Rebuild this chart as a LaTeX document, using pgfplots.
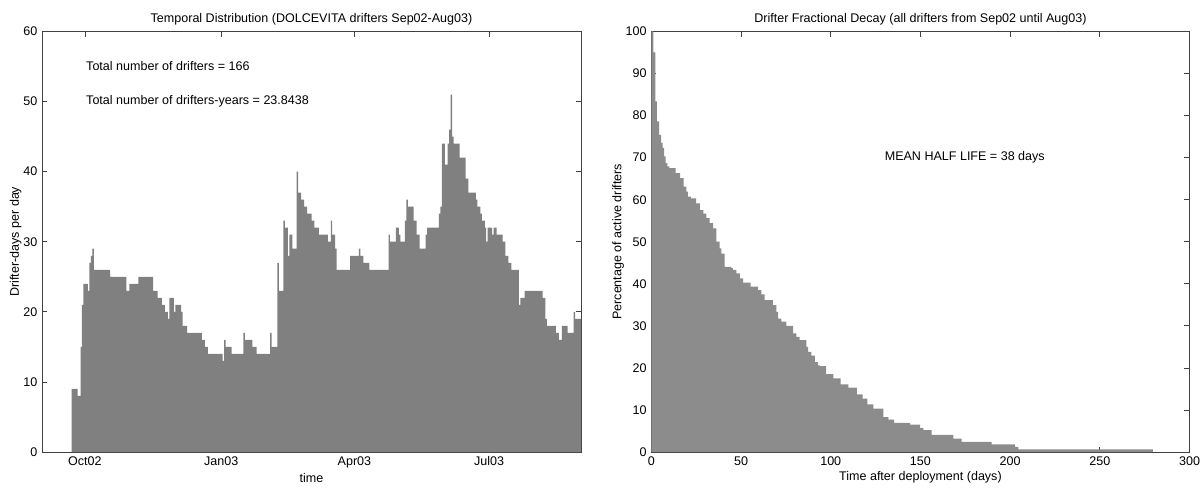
\documentclass[border=0pt]{standalone}
\usepackage{fontspec}
\setmainfont{Liberation Sans}
\usepackage{pgfplots}
\pgfplotsset{compat=1.18}

\definecolor{fillL}{RGB}{128,128,128}
\definecolor{fillR}{RGB}{140,140,140}

\pgfplotsset{
  mat/.style={
    scale only axis, anchor=south west,
    height=315.4pt,
    axis line style={black!75, line width=0.6pt},
    every tick/.style={black!75, line width=0.6pt},
    major tick length=3.8pt, tick align=inside,
    enlargelimits=false,
    /pgf/number format/assume math mode=true,
    font=\fontsize{9.4}{11}\selectfont,
    ticklabel style={font=\fontsize{9.4}{11}\selectfont},
    title style={font=\fontsize{9.4}{11}\selectfont, yshift=-5pt},
    label style={font=\fontsize{9.4}{11}\selectfont},
    xlabel style={yshift=2.5pt},
    ylabel style={yshift=-5.5pt},
  }
}

\begin{document}
\begin{tikzpicture}
\useasboundingbox (0,0) rectangle (900.75pt,365.25pt);

% left: drifter-days per day
\begin{axis}[mat, at={(31.5pt,26.25pt)}, width=404.25pt,
    xmin=-29, xmax=335, ymin=0, ymax=60,
    xtick={0,92,182,273}, xticklabels={Oct02,Jan03,Apr03,Jul03},
    ytick={0,10,...,60},
    title={Temporal Distribution (DOLCEVITA drifters Sep02-Aug03)},
    xlabel={time}, ylabel={Drifter-days per day}]
\addplot[const plot, fill=fillL, draw=none] coordinates {
(-9,9) (-5,8) (-3,15) (-2,21) (-1,24) (2,23) (3,27) (4,28) (5,29) (6,26)
(17,25) (28,23) (30,24) (36,25) (46,23) (49,22) (52,21) (54,20) (56,19) (57,22)
(60,20) (61,21) (65,20) (66,18) (69,17) (79,16) (81,15) (83,14) (93,13) (94,16)
(95,15) (99,14) (107,17) (108,16) (113,15) (116,14) (125,17) (126,15) (130,27) (131,23)
(134,33) (135,32) (137,28) (138,31) (140,29) (143,40) (144,37) (146,36) (148,35) (150,34)
(153,33) (155,32) (158,31) (164,30) (166,33) (167,31) (169,29) (170,26) (179,28) (185,29)
(186,28) (188,27) (192,26) (205,31) (206,30) (210,32) (212,31) (213,30) (216,33) (217,36)
(218,35) (222,33) (224,31) (226,29) (230,31) (231,32) (239,34) (240,35) (241,44) (243,41)
(245,44) (246,46) (247,51) (248,45) (249,44) (253,42) (257,39) (259,37) (264,36) (265,35)
(267,34) (268,33) (270,32) (271,30) (272,32) (275,31) (276,32) (278,31) (282,30) (284,28)
(286,27) (288,26) (293,21) (294,22) (297,23) (309,22) (311,19) (312,18) (318,17) (320,16)
(322,18) (326,17) (330,20) (331,19) (335,19)
} \closedcycle;
\node[anchor=west, inner sep=0pt] at (axis cs:0.7,55.1) {Total number of drifters = 166};
\node[anchor=west, inner sep=0pt] at (axis cs:0.7,50.1) {Total number of drifters-years = 23.8438};
\end{axis}

% right: fractional decay
\begin{axis}[mat, at={(488.5pt,26.25pt)}, width=403.65pt,
    xmin=0, xmax=300, ymin=0, ymax=100,
    xtick={0,50,...,300}, ytick={0,10,...,100},
    title={Drifter Fractional Decay (all drifters from Sep02 until Aug03)},
    xlabel={Time after deployment (days)}, ylabel={Percentage of active drifters}]
\addplot[const plot, fill=fillR, draw=none] coordinates {
(0,100) (1.2,95) (2.2,83.4) (3.1,78.6) (4.4,75.4) (5.4,73.5) (6.3,72.3) (7.1,70.3) (8,68.7) (9,67.9)
(10,67.5) (13.5,66.3) (16,65.1) (18,63.1) (19.5,61.9) (20.4,60.7) (22,60.3) (25,59.1) (27,57.5) (29,56.7)
(30.7,55.6) (32.5,54.4) (34.4,53.2) (36.2,50) (38.1,48.4) (39,47.2) (40.9,44) (44.6,43.7) (45.5,43.3) (47.4,42.5)
(49.3,41.3) (51.1,40.3) (55.4,39.3) (59.5,38.5) (61.3,37.5) (63.2,36.1) (67.8,34.9) (69.7,33.3) (70.6,31.7) (72.5,31)
(75.3,30) (79,28.2) (80.9,27.4) (82.7,26.6) (86.4,25) (87.4,23.8) (89.2,22.9) (91.1,21.4) (92.9,20.6) (94,20.4)
(97.4,18.5) (101.5,17.5) (105.5,16.1) (109.8,15.3) (114.5,13.7) (117.8,12.7) (120.4,11.3) (123.8,10.3) (129.3,8.3) (132.1,7.7)
(135.3,6.9) (144.2,6.5) (149.8,5.7) (151.6,5.2) (156.3,4.1) (168.3,3.2) (173,2.4) (189.7,1.8) (202.7,1.2) (204.6,0.6)
(279.5,0.6)
} \closedcycle;
\node[anchor=west, inner sep=0pt] at (axis cs:130,70.2) {MEAN HALF LIFE = 38 days};
\end{axis}
\end{tikzpicture}
\end{document}
